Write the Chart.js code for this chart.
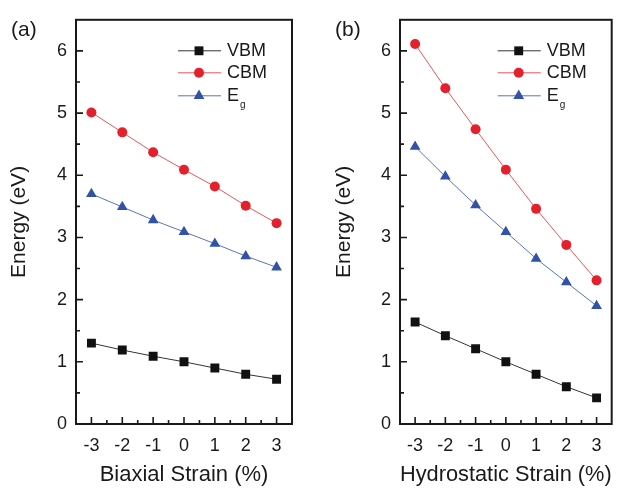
<!DOCTYPE html>
<html>
<head>
<meta charset="utf-8">
<script src="https://cdn.jsdelivr.net/npm/chart.js@4/dist/chart.umd.min.js"></script>
<style>
  html, body { margin: 0; padding: 0; background: #fff; }
  #wrap { position: relative; width: 618px; height: 490px; }
  canvas { position: absolute; top: 0; }
  #panel-a { left: 0; }
  #panel-b { left: 309px; }
</style>
</head>
<body>
<div id="wrap">
  <canvas id="panel-a" width="309" height="490"></canvas>
  <canvas id="panel-b" width="309" height="490"></canvas>
</div>
<script>
// ==========================================
// DATA
// ==========================================
const strain = [-3, -2, -1, 0, 1, 2, 3];
const xTicks = [-3, -2, -1, 0, 1, 2, 3];
const yTicks = [0, 1, 2, 3, 4, 5, 6];

const biaxialVBM = [1.30, 1.19, 1.09, 1.00, 0.90, 0.80, 0.72];
const biaxialCBM = [5.01, 4.69, 4.37, 4.09, 3.82, 3.51, 3.23];
const biaxialEg  = [3.70, 3.49, 3.28, 3.09, 2.90, 2.70, 2.52];

const hydroVBM = [1.64, 1.42, 1.21, 1.00, 0.80, 0.60, 0.42];
const hydroCBM = [6.11, 5.40, 4.74, 4.09, 3.46, 2.88, 2.31];
const hydroEg  = [4.46, 3.98, 3.52, 3.09, 2.66, 2.28, 1.90];

const seriesNames = ['VBM', 'CBM', 'Eg'];

// ==========================================
// STYLE
// ==========================================
const FONT = "'Liberation Sans', Arial, sans-serif";
const INK = '#1a1a1a';
const STYLES = {
    VBM: { color: '#111111', line: '#333333', shape: 'rect', radius: 6.3 },
    CBM: { color: '#e3202b', line: '#e8555c', shape: 'circle', radius: 5 },
    Eg:  { color: '#3152a8', line: '#5a74bd', shape: 'triangle', radius: 6.2 }
};

let charts = {};

function toPoints(values) {
    return strain.map((s, i) => ({ x: s, y: values[i] }));
}

function makeDataset(name, values) {
    const st = STYLES[name];
    return {
        label: name,
        data: toPoints(values),
        borderColor: st.line,
        borderWidth: 1,
        pointStyle: st.shape,
        pointRadius: st.radius,
        pointBackgroundColor: st.color,
        pointBorderColor: st.color,
        pointBorderWidth: 0,
        tension: 0
    };
}

// marker for the hand-drawn legend (same shapes as Chart.js points)
function drawMarker(ctx, shape, r, x, y, color) {
    ctx.fillStyle = color;
    ctx.beginPath();
    if (shape === 'rect') {
        const h = r * Math.SQRT1_2;
        ctx.rect(x - h, y - h, 2 * h, 2 * h);
    } else if (shape === 'circle') {
        ctx.arc(x, y, r, 0, Math.PI * 2);
    } else {
        ctx.moveTo(x, y - r);
        ctx.lineTo(x + r * Math.sin(Math.PI * 2 / 3), y + r / 2);
        ctx.lineTo(x - r * Math.sin(Math.PI * 2 / 3), y + r / 2);
        ctx.closePath();
    }
    ctx.fill();
}

// frame, inward ticks, legend and panel letter
const decorPlugin = {
    id: 'decor',
    afterDraw(chart, args, opts) {
        const { ctx, chartArea: a, scales } = chart;
        ctx.save();

        // inward major + minor ticks
        ctx.strokeStyle = INK;
        ctx.lineWidth = 1.6;
        ctx.beginPath();
        xTicks.forEach(v => {
            const px = scales.x.getPixelForValue(v);
            ctx.moveTo(px, a.bottom); ctx.lineTo(px, a.bottom - 7);
            const pm = scales.x.getPixelForValue(v + 0.5);
            if (v + 0.5 < scales.x.max) { ctx.moveTo(pm, a.bottom); ctx.lineTo(pm, a.bottom - 4); }
            if (v === xTicks[0]) {
                const p0 = scales.x.getPixelForValue(v - 0.5);
                ctx.moveTo(p0, a.bottom); ctx.lineTo(p0, a.bottom - 4);
            }
        });
        yTicks.forEach(v => {
            const py = scales.y.getPixelForValue(v);
            ctx.moveTo(a.left, py); ctx.lineTo(a.left + 7, py);
            if (v + 0.5 < scales.y.max) {
                const pm = scales.y.getPixelForValue(v + 0.5);
                ctx.moveTo(a.left, pm); ctx.lineTo(a.left + 4, pm);
            }
        });
        ctx.stroke();

        // box around plot area
        ctx.lineWidth = 2;
        ctx.strokeRect(a.left, a.top, a.right - a.left, a.bottom - a.top);

        // legend (top right, inside)
        const rows = [a.top + 31, a.top + 53, a.top + 76];
        ctx.textBaseline = 'middle';
        ctx.textAlign = 'left';
        seriesNames.forEach((name, i) => {
            const st = STYLES[name];
            const y = rows[i];
            ctx.strokeStyle = st.line;
            ctx.lineWidth = 1;
            ctx.beginPath();
            ctx.moveTo(a.right - 114, y);
            ctx.lineTo(a.right - 71, y);
            ctx.stroke();
            drawMarker(ctx, st.shape, st.radius, a.right - 93, y, st.color);
            ctx.fillStyle = INK;
            ctx.font = '18px ' + FONT;
            const tx = a.right - 65;
            if (name === 'Eg') {
                ctx.fillText('E', tx, y);
                const w = ctx.measureText('E').width;
                ctx.font = '10px ' + FONT;
                ctx.fillText('g', tx + w + 1, y + 9);
            } else {
                ctx.fillText(name, tx, y);
            }
        });

        // panel letter
        ctx.font = '21px ' + FONT;
        ctx.fillStyle = INK;
        ctx.fillText(opts.letter, opts.lx, opts.ly);
        ctx.restore();
    }
};

function renderPanel(id, cfg) {
    const ctx = document.getElementById(id);
    if (!ctx || typeof Chart === 'undefined') return;

    charts[id] = new Chart(ctx, {
        type: 'line',
        data: {
            datasets: [
                makeDataset('VBM', cfg.vbm),
                makeDataset('CBM', cfg.cbm),
                makeDataset('Eg', cfg.eg)
            ]
        },
        plugins: [decorPlugin],
        options: {
            responsive: false,
            animation: false,
            devicePixelRatio: 1,
            layout: { padding: { left: 0, top: 12, right: cfg.padRight, bottom: 0 } },
            plugins: {
                legend: { display: false },
                tooltip: { enabled: false },
                decor: { letter: cfg.letter, lx: cfg.lx, ly: 30 }
            },
            scales: {
                x: {
                    type: 'linear',
                    min: -3.5,
                    max: 3.5,
                    afterBuildTicks: s => { s.ticks = xTicks.map(v => ({ value: v })); },
                    afterFit: s => { s.height = 66; },
                    grid: { drawOnChartArea: false, drawTicks: false },
                    border: { display: false },
                    ticks: {
                        autoSkip: false,
                        maxRotation: 0,
                        minRotation: 0,
                        padding: 11,
                        color: INK,
                        font: { family: FONT, size: 18 }
                    },
                    title: {
                        display: true,
                        text: cfg.xTitle,
                        color: INK,
                        font: { family: FONT, size: 22 },
                        padding: { top: 0, bottom: 2 }
                    }
                },
                y: {
                    type: 'linear',
                    min: 0,
                    max: 6.5,
                    afterBuildTicks: s => { s.ticks = yTicks.map(v => ({ value: v })); },
                    afterFit: s => { s.width = cfg.yWidth; },
                    grid: { drawOnChartArea: false, drawTicks: false },
                    border: { display: false },
                    ticks: {
                        autoSkip: false,
                        padding: 9,
                        color: INK,
                        font: { family: FONT, size: 18 }
                    },
                    title: {
                        display: true,
                        text: 'Energy (eV)',
                        color: INK,
                        font: { family: FONT, size: 21 },
                        padding: { top: cfg.yTitlePad, bottom: 0 }
                    }
                }
            }
        }
    });
}

renderPanel('panel-a', {
    vbm: biaxialVBM, cbm: biaxialCBM, eg: biaxialEg,
    xTitle: 'Biaxial Strain (%)', letter: '(a)', lx: 11,
    yWidth: 76, padRight: 17, yTitlePad: 7
});

renderPanel('panel-b', {
    vbm: hydroVBM, cbm: hydroCBM, eg: hydroEg,
    xTitle: 'Hydrostatic Strain (%)', letter: '(b)', lx: 26,
    yWidth: 91, padRight: 3, yTitlePad: 23
});
</script>
</body>
</html>
